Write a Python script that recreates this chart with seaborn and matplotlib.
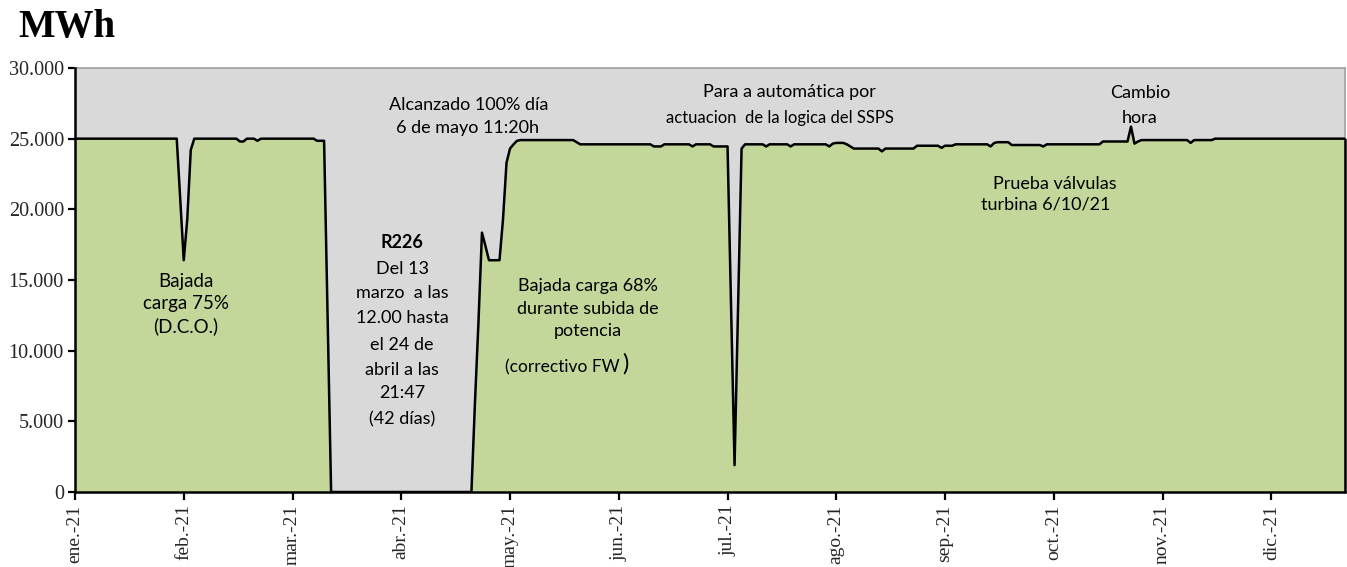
import numpy as np
import pandas as pd
import matplotlib
matplotlib.use("Agg")
import matplotlib.pyplot as plt
import seaborn as sns
from matplotlib.ticker import FuncFormatter, FixedLocator

# ---------------- data (daily MWh) ----------------
ene = [25000, 25000, 25000, 25000, 25000, 25000, 25000, 25000, 25000, 25000,
       25000, 25000, 25000, 25000, 25000, 25000, 25000, 25000, 25000, 25000,
       25000, 25000, 25000, 25000, 25000, 25000, 25000, 25000, 25000, 25000,
       20700]
feb = [16400, 19300, 24200, 25000, 25000, 25000, 25000, 25000, 25000, 25000,
       25000, 25000, 25000, 25000, 25000, 25000, 24800, 24800, 25000, 25000,
       25000, 24850, 25000, 25000, 25000, 25000, 25000, 25000]
mar = [25000, 25000, 25000, 25000, 25000, 25000, 25000, 25000, 25000, 25000,
       24850, 24850, 24850, 12400, 0, 0, 0, 0, 0, 0,
       0, 0, 0, 0, 0, 0, 0, 0, 0, 0,
       0]
abr = [0, 0, 0, 0, 0, 0, 0, 0, 0, 0,
       0, 0, 0, 0, 0, 0, 0, 0, 0, 0,
       0, 0, 0, 0, 6300, 12000, 18350, 17400, 16400, 16400]
may = [16400, 16400, 19300, 23300, 24300, 24600, 24850, 24900, 24900, 24900,
       24900, 24900, 24900, 24900, 24900, 24900, 24900, 24900, 24900, 24900,
       24900, 24900, 24900, 24750, 24600, 24600, 24600, 24600, 24600, 24600,
       24600]
jun = [24600, 24600, 24600, 24600, 24600, 24600, 24600, 24600, 24600, 24600,
       24600, 24600, 24600, 24600, 24450, 24450, 24450, 24600, 24600, 24600,
       24600, 24600, 24600, 24600, 24600, 24450, 24600, 24600, 24600, 24600]
jul = [24600, 24450, 24450, 24450, 24450, 24450, 13000, 1900, 13000, 24300,
       24600, 24600, 24600, 24600, 24600, 24600, 24450, 24600, 24600, 24600,
       24600, 24600, 24600, 24450, 24600, 24600, 24600, 24600, 24600, 24600,
       24600]
ago = [24600, 24600, 24600, 24450, 24650, 24700, 24700, 24700, 24600, 24450,
       24300, 24300, 24300, 24300, 24300, 24300, 24300, 24300, 24100, 24300,
       24300, 24300, 24300, 24300, 24300, 24300, 24300, 24300, 24500, 24500,
       24500]
sep = [24500, 24500, 24500, 24500, 24350, 24500, 24500, 24500, 24600, 24600,
       24600, 24600, 24600, 24600, 24600, 24600, 24600, 24600, 24450, 24700,
       24750, 24750, 24750, 24750, 24550, 24550, 24550, 24550, 24550, 24550]
oct_ = [24550, 24550, 24550, 24450, 24600, 24600, 24600, 24600, 24600, 24600,
        24600, 24600, 24600, 24600, 24600, 24600, 24600, 24600, 24600, 24600,
        24800, 24800, 24800, 24800, 24800, 24800, 24800, 24800, 25850, 24650,
        24800]
nov = [24900, 24900, 24900, 24900, 24900, 24900, 24900, 24900, 24900, 24900,
       24900, 24900, 24900, 24900, 24700, 24900, 24900, 24900, 24900, 24900,
       24900, 25000, 25000, 25000, 25000, 25000, 25000, 25000, 25000, 25000]
dic = [25000, 25000, 25000, 25000, 25000, 25000, 25000, 25000, 25000, 25000,
       25000, 25000, 25000, 25000, 25000, 25000, 25000, 25000, 25000, 25000,
       25000, 25000, 25000, 25000, 25000, 25000, 25000, 25000, 25000]

tick_labels = ["ene.-21", "feb.-21", "mar.-21", "abr.-21", "may.-21", "jun.-21",
               "jul.-21", "ago.-21", "sep.-21", "oct.-21", "nov.-21", "dic.-21"]
tick_interval = 31          # category-axis label interval (points)
y_ticks = [0, 5000, 10000, 15000, 20000, 25000, 30000]

produccion = ene + feb + mar + abr + may + jun + jul + ago + sep + oct_ + nov + dic
df = pd.DataFrame({"dia": np.arange(len(produccion)), "MWh": produccion})

# ---------------- style ----------------
sns.set_theme(style="white")
plt.rcParams["font.family"] = ["Lato", "DejaVu Sans"]
SERIF = ["Liberation Serif", "DejaVu Serif"]

W, H = 1347, 567
fig = plt.figure(figsize=(W / 100, H / 100), dpi=100)
fig.patch.set_facecolor("white")
ax = fig.add_axes([75 / W, 1 - 492 / H, 1270 / W, 424 / H])
ax.set_facecolor("#D9D9D9")

ax.fill_between(df["dia"], df["MWh"], 0, color="#C4D79B", lw=0, zorder=1)
sns.lineplot(data=df, x="dia", y="MWh", color="black", lw=1.8, ax=ax, zorder=3)
ax.plot([df["dia"].iloc[-1]] * 2, [0, df["MWh"].iloc[-1]], color="black",
        lw=1.8, clip_on=False, zorder=3)

ax.set_xlim(0, len(produccion) - 1)
ax.set_ylim(0, 30000)
ax.set_xlabel("")
ax.set_ylabel("")

ax.xaxis.set_major_locator(FixedLocator([k * tick_interval for k in range(len(tick_labels))]))
ax.set_xticklabels(tick_labels, rotation=90, fontfamily=SERIF, fontsize=14)
ax.yaxis.set_major_locator(FixedLocator(y_ticks))
ax.yaxis.set_major_formatter(FuncFormatter(lambda v, _: f"{int(v):,}".replace(",", ".")))
for lab in ax.get_yticklabels():
    lab.set_fontfamily(SERIF)
    lab.set_fontsize(14.5)
ax.tick_params(axis="y", which="major", direction="out", length=5, width=1.6,
               color="black", pad=3, labelsize=14.5, left=True)
ax.tick_params(axis="x", which="major", direction="out", length=6, width=1.6,
               color="black", pad=3, labelsize=14, bottom=True)

for side in ["left", "bottom"]:
    ax.spines[side].set_color("black")
    ax.spines[side].set_linewidth(1.8)
    ax.spines[side].set_zorder(4)
for side in ["top", "right"]:
    ax.spines[side].set_color("#A0A0A0")
    ax.spines[side].set_linewidth(1.2)

# ---------------- annotations (pixel positions of text centres) ----------------
def note(s, x, y, size=13, **kw):
    fig.text(x / W, 1 - y / H, s, ha="center", va="center", fontsize=size,
             color="black", **kw)

note("Bajada", 186, 282, size=13.5)
note("carga 75%", 186, 304, size=13.5)
note("(D.C.O.)", 186, 326, size=13.5)

note("R226", 402, 243, fontweight="bold")
for s, y in [("Del 13", 269), ("marzo  a las", 293), ("12.00 hasta", 318),
             ("el 24 de", 345), ("abril a las", 370), ("21:47", 393),
             ("(42 días)", 419)]:
    note(s, 402, y)

note("Alcanzado 100% día", 469, 105)
note("6 de mayo 11:20h", 467, 128)

note("Bajada carga 68%", 588, 286)
note("durante subida de", 588, 309)
note("potencia", 588, 331)
note("(correctivo FW", 562, 367, size=12.5)
note(")", 625, 364, size=17)

note("Para a automática por", 789, 92)
note("actuacion  de la logica del SSPS", 780, 118, size=12)

note("Cambio", 1140, 93)
note("hora", 1140, 118)

note("Prueba válvulas", 1055, 184)
note("turbina 6/10/21", 1046, 205)

fig.text(18 / W, 1 - 27 / H, "MWh", ha="left", va="center", fontsize=28,
         fontweight="bold", fontfamily=SERIF, color="black")

fig.savefig("out.png", dpi=100, facecolor="white")
